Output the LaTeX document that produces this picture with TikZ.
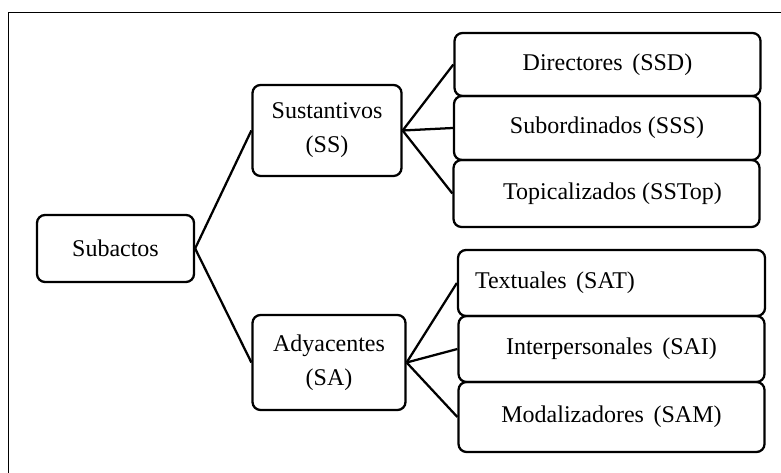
\documentclass[tikz,border=0pt]{standalone}
\usepackage{fontspec}
\setmainfont{Liberation Serif}
\usetikzlibrary{positioning}
\newcommand{\gap}{\hspace{.4em}}

\begin{document}
\begin{tikzpicture}[x=0.75pt,y=-0.75pt,line width=1.7pt,
  box/.style={draw,rounded corners=6pt,inner sep=0pt,align=center,font=\fontsize{18}{25.5}\selectfont},
  leaf/.style={box,minimum width=229.5pt}]
\path[use as bounding box] (0,0) rectangle (781,473);
\draw[line width=.8pt] (8.5,473) -- (8.5,12.5) -- (781,12.5);
\node[box,minimum width=117.75pt,minimum height=50.25pt] (sub) at (115.5,248.5) {Subactos};
\node[box,minimum width=111.75pt,minimum height=68.25pt] (sus) at (327,130.5) {Sustantivos\\(SS)};
\node[box,minimum width=114.75pt,minimum height=71.25pt] (ady) at (329,362.5) {Adyacentes\\(SA)};
\node[leaf,minimum height=47.25pt] (ssd) at (607.5,64.5) {\raisebox{-3pt}{Directores\gap(SSD)}};
\node[leaf,minimum height=48pt] (sss) at (607,128) {\raisebox{-1.5pt}{Subordinados (SSS)}};
\node[leaf,minimum height=50.25pt] (sstop) at (606.5,193.5) {\hspace*{9pt}\raisebox{-1.5pt}{Topicalizados (SSTop)}};
\node[leaf,minimum height=49.5pt,text width=204.75pt,inner xsep=12.75pt,align=left] (sat) at (611.5,283) {Textuales\gap(SAT)};
\node[leaf,minimum height=49.5pt] (sai) at (611.5,349) {\raisebox{-2pt}{Interpersonales\gap(SAI)}};
\node[leaf,minimum height=52.5pt] (sam) at (611.5,417) {Modalizadores\gap(SAM)};
\draw (sub.east) -- (sus.west);
\draw (sub.east) -- (ady.west);
\draw (sus.east) -- (ssd.west);
\draw (sus.east) -- (sss.west);
\draw (sus.east) -- (sstop.west);
\draw (ady.east) -- (sat.west);
\draw (ady.east) -- (sai.west);
\draw (ady.east) -- (sam.west);
\end{tikzpicture}
\end{document}
